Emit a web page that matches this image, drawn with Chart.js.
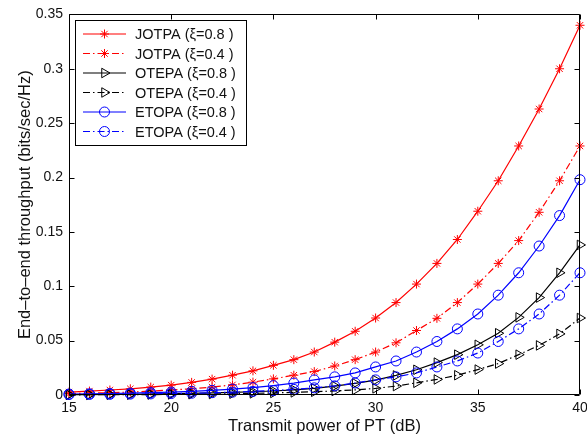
<!DOCTYPE html>
<html>
<head>
<meta charset="utf-8">
<script src="https://cdn.jsdelivr.net/npm/chart.js@4.4.0/dist/chart.umd.min.js"></script>
<style>
html, body { margin: 0; padding: 0; background: #fff; }
</style>
</head>
<body>
<canvas id="myChart" width="587" height="435"></canvas>
<script>
// transmit power of PT (dB)
const power = [15, 16, 17, 18, 19, 20, 21, 22, 23, 24, 25, 26, 27, 28, 29, 30, 31, 32, 33, 34, 35, 36, 37, 38, 39, 40];

// end-to-end throughput (bits/sec/Hz)
const jotpa08 = [0.0027, 0.0036, 0.0046, 0.0057, 0.0073, 0.0091, 0.0116, 0.0146, 0.0182, 0.0222, 0.0273, 0.0325, 0.0395, 0.0486, 0.0586, 0.0708, 0.085, 0.102, 0.121, 0.143, 0.169, 0.197, 0.229, 0.263, 0.300, 0.340];
const jotpa04 = [0.0013, 0.0017, 0.0021, 0.0027, 0.0036, 0.0046, 0.0057, 0.0073, 0.0093, 0.0118, 0.0148, 0.0182, 0.0215, 0.0267, 0.0325, 0.0395, 0.048, 0.0593, 0.0705, 0.085, 0.102, 0.121, 0.142, 0.168, 0.197, 0.229];
const otepa08 = [0.0003, 0.0004, 0.0005, 0.0007, 0.0009, 0.0012, 0.0015, 0.0019, 0.0024, 0.003, 0.0037, 0.0047, 0.0061, 0.0082, 0.0107, 0.0137, 0.018, 0.0232, 0.0298, 0.0371, 0.0462, 0.0568, 0.0714, 0.0896, 0.1124, 0.138];
const otepa04 = [0.0002, 0.0002, 0.0003, 0.0003, 0.0004, 0.0005, 0.0007, 0.0009, 0.0012, 0.0015, 0.0019, 0.0024, 0.003, 0.0037, 0.0047, 0.0061, 0.0082, 0.0112, 0.0143, 0.0182, 0.0234, 0.0289, 0.0371, 0.0456, 0.0562, 0.0708];
const etopa08 = [0.0009, 0.0011, 0.0014, 0.0017, 0.0022, 0.0027, 0.0034, 0.0043, 0.0054, 0.0068, 0.0086, 0.011, 0.0139, 0.0167, 0.0203, 0.0258, 0.0313, 0.0395, 0.0492, 0.0608, 0.0745, 0.0918, 0.1124, 0.137, 0.165, 0.198];
const etopa04 = [0.0004, 0.0005, 0.0006, 0.0008, 0.001, 0.0013, 0.0016, 0.0021, 0.0026, 0.0033, 0.0041, 0.0052, 0.0066, 0.0084, 0.011, 0.0139, 0.0167, 0.0203, 0.0258, 0.0313, 0.0386, 0.0492, 0.0608, 0.0745, 0.0918, 0.1124];

const xTicks = [15, 20, 25, 30, 35, 40];
const yTicks = [0, 0.05, 0.1, 0.15, 0.2, 0.25, 0.3, 0.35];

const solid = [];
const dashDot = [7, 3, 1.5, 3];

// une serie = ligne + marqueurs
const makeSet = (label, values, color, dash, style, radius, order) => ({
  label: label,
  data: power.map((p, i) => ({ x: p, y: values[i] })),
  borderColor: color,
  backgroundColor: 'rgba(0,0,0,0)',
  borderWidth: 1.2,
  borderDash: dash,
  pointStyle: style,
  pointRadius: radius,
  pointRotation: style === 'triangle' ? 90 : 0,
  pointBorderColor: color,
  pointBackgroundColor: 'rgba(0,0,0,0)',
  pointBorderWidth: 1,
  tension: 0,
  fill: false,
  clip: false,
  order: order
});

const datasets = [
  makeSet('JOTPA (\u03BE=0.8 )', jotpa08, '#ff0000', solid, 'star', 4.5, 6),
  makeSet('JOTPA (\u03BE=0.4 )', jotpa04, '#ff0000', dashDot, 'star', 4.5, 5),
  makeSet('OTEPA (\u03BE=0.8 )', otepa08, '#000000', solid, 'triangle', 5.5, 4),
  makeSet('OTEPA (\u03BE=0.4 )', otepa04, '#000000', dashDot, 'triangle', 5.5, 3),
  makeSet('ETOPA (\u03BE=0.8 )', etopa08, '#0000ff', solid, 'circle', 5, 2),
  makeSet('ETOPA (\u03BE=0.4 )', etopa04, '#0000ff', dashDot, 'circle', 5, 1)
];

const fontFamily = '"Liberation Sans", Arial, Helvetica, sans-serif';

// cadre + graduations vers l'interieur (style matlab)
const frame = {
  id: 'frame',
  afterDraw(chart) {
    const ctx = chart.ctx;
    const a = chart.chartArea;
    const sx = chart.scales.x, sy = chart.scales.y;
    const L = Math.round(a.left) + 0.5, R = Math.round(a.right) - 0.5;
    const T = Math.round(a.top) + 0.5, B = Math.round(a.bottom) - 0.5;
    ctx.save();
    ctx.strokeStyle = '#000';
    ctx.lineWidth = 1;
    ctx.setLineDash([]);
    ctx.beginPath();
    ctx.rect(L, T, R - L, B - T);
    xTicks.forEach(v => {
      const px = Math.round(sx.getPixelForValue(v)) + 0.5;
      ctx.moveTo(px, B); ctx.lineTo(px, B - 5);
      ctx.moveTo(px, T); ctx.lineTo(px, T + 5);
    });
    yTicks.forEach(v => {
      const py = Math.round(sy.getPixelForValue(v)) + 0.5;
      ctx.moveTo(L, py); ctx.lineTo(L + 5, py);
      ctx.moveTo(R, py); ctx.lineTo(R - 5, py);
    });
    ctx.stroke();
    ctx.restore();
  }
};

const drawMarker = (ctx, ds, x, y) => {
  ctx.save();
  ctx.strokeStyle = ds.pointBorderColor;
  ctx.fillStyle = 'rgba(0,0,0,0)';
  ctx.lineWidth = ds.pointBorderWidth;
  if (Chart.helpers && Chart.helpers.drawPoint) {
    Chart.helpers.drawPoint(ctx, {
      pointStyle: ds.pointStyle,
      rotation: ds.pointRotation,
      radius: ds.pointRadius,
      borderWidth: ds.pointBorderWidth
    }, x, y);
  } else {
    ctx.beginPath();
    ctx.arc(x, y, ds.pointRadius, 0, Math.PI * 2);
    ctx.stroke();
  }
  ctx.restore();
};

// legende encadree en haut a gauche
const legendBox = {
  id: 'legendBox',
  afterDraw(chart) {
    const ctx = chart.ctx;
    const a = chart.chartArea;
    const x0 = Math.round(a.left) + 6, y0 = Math.round(a.top) + 6;
    const w = 171, h = 125;
    ctx.save();
    ctx.fillStyle = '#fff';
    ctx.fillRect(x0, y0, w, h);
    ctx.strokeStyle = '#000';
    ctx.lineWidth = 1;
    ctx.strokeRect(x0 + 0.5, y0 + 0.5, w, h);
    ctx.font = '14.5px ' + fontFamily;
    ctx.textBaseline = 'middle';
    ctx.textAlign = 'left';
    chart.data.datasets.forEach((ds, i) => {
      const y = y0 + 14 + i * 19.5;
      ctx.save();
      ctx.strokeStyle = ds.borderColor;
      ctx.lineWidth = ds.borderWidth;
      ctx.setLineDash(ds.borderDash);
      ctx.beginPath();
      ctx.moveTo(x0 + 8, y);
      ctx.lineTo(x0 + 51, y);
      ctx.stroke();
      ctx.restore();
      drawMarker(ctx, ds, x0 + 29.5, y);
      ctx.fillStyle = '#111';
      ctx.fillText(ds.label, x0 + 60, y + 1);
    });
    ctx.restore();
  }
};

const ctx = document.getElementById('myChart').getContext('2d');
const myChart = new Chart(ctx, {
  type: 'line',
  data: { datasets: datasets },
  options: {
    responsive: false,
    animation: false,
    layout: { padding: { top: 11, right: 7, left: 0, bottom: 0 } },
    plugins: {
      legend: { display: false },
      tooltip: { enabled: false }
    },
    scales: {
      x: {
        type: 'linear',
        min: 15,
        max: 40,
        afterBuildTicks: (s) => { s.ticks = xTicks.map(v => ({ value: v })); },
        afterFit: (s) => { s.height = 40; s.paddingLeft = 0; s.paddingRight = 0; },
        grid: { display: false, drawTicks: false },
        border: { display: false },
        ticks: {
          padding: 5,
          color: '#111',
          font: { family: fontFamily, size: 14 },
          maxRotation: 0,
          callback: (v) => String(v)
        },
        title: {
          display: true,
          text: 'Transmit power of PT (dB)',
          color: '#111',
          font: { family: fontFamily, size: 16.5, lineHeight: 1 },
          padding: { top: 0, bottom: 0 }
        }
      },
      y: {
        type: 'linear',
        min: 0,
        max: 0.35,
        afterBuildTicks: (s) => { s.ticks = yTicks.map(v => ({ value: v })); },
        afterFit: (s) => { s.width = 69; },
        grid: { display: false, drawTicks: false },
        border: { display: false },
        ticks: {
          padding: 6,
          color: '#111',
          font: { family: fontFamily, size: 14 },
          callback: (v) => String(+Number(v).toFixed(2))
        },
        title: {
          display: true,
          text: 'End\u2013to\u2013end throughput (bits/sec/Hz)',
          color: '#111',
          font: { family: fontFamily, size: 16.5, lineHeight: 1 },
          padding: { top: 17, bottom: 0 }
        }
      }
    }
  },
  plugins: [frame, legendBox]
});
</script>
</body>
</html>
